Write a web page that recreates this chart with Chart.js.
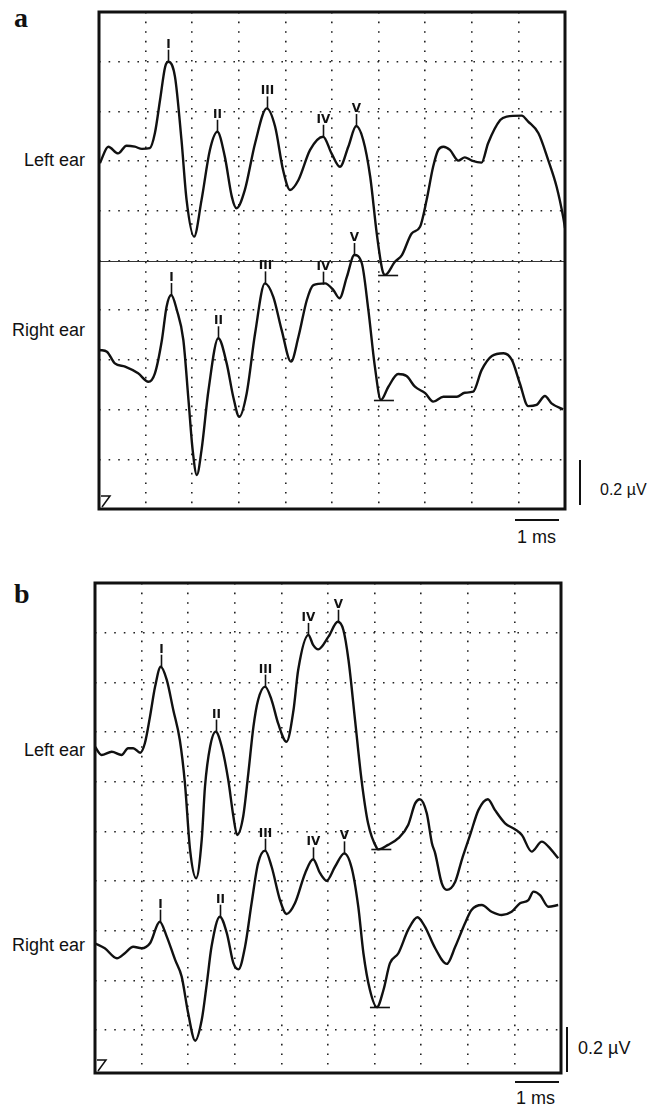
<!DOCTYPE html>
<html>
<head>
<meta charset="utf-8">
<script src="https://cdn.jsdelivr.net/npm/chart.js@4.4.1/dist/chart.umd.min.js"></script>
<style>
    html, body { margin: 0; padding: 0; background: #fff; }
    body { position: relative; width: 663px; height: 1107px; overflow: hidden; font-family: "Liberation Sans", Arial, Helvetica, sans-serif; color: #111; }
    canvas { position: absolute; left: 0; }
    .txt { position: absolute; white-space: nowrap; line-height: 1; }
    .ear { width: 85px; text-align: right; left: 0; font-size: 18px; }
    .panel { font-family: "Liberation Serif", "Times New Roman", serif; font-weight: bold; font-size: 28px; line-height: 28px; left: 14px; }
    .bar { position: absolute; background: #111; }
</style>
</head>
<body>
<div class="txt panel" style="top:4px">a</div>
<div class="txt panel" style="top:580px">b</div>

<div class="txt ear" style="top:151px">Left ear</div>
<div class="txt ear" style="top:321px">Right ear</div>
<div class="txt ear" style="top:741px">Left ear</div>
<div class="txt ear" style="top:936px">Right ear</div>

<!-- scale bars -->
<div class="bar" style="left:579px;top:460px;width:2px;height:45px"></div>
<div class="txt" style="left:600px;top:482px;font-size:16px">0.2 µV</div>
<div class="bar" style="left:515px;top:519px;width:44px;height:2px"></div>
<div class="txt" style="left:517px;top:528px;font-size:18px">1 ms</div>

<div class="bar" style="left:566px;top:1027px;width:2px;height:45px"></div>
<div class="txt" style="left:578px;top:1039px;font-size:18px">0.2 µV</div>
<div class="bar" style="left:515px;top:1081px;width:44px;height:2px"></div>
<div class="txt" style="left:516px;top:1089px;font-size:18px">1 ms</div>

<canvas id="chartA" width="663" height="560" style="top:0"></canvas>
<canvas id="chartB" width="663" height="547" style="top:560px"></canvas>

<script>
// time in ms, amplitude in µV (trace offsets included)
const gridX = [1, 2, 3, 4, 5, 6, 7, 8, 9];
const gridY = [0.2, 0.4, 0.6, 0.8, 1.0, 1.2, 1.4, 1.6, 1.8];
const peakNames = ['I', 'II', 'III', 'IV', 'V'];

// panel a
const aLeft = [[0.02,1.392],[0.20,1.458],[0.41,1.431],[0.59,1.462],[0.77,1.458],[0.92,1.449],[1.09,1.452],[1.20,1.513],[1.31,1.646],[1.42,1.780],[1.49,1.800],[1.63,1.740],[1.77,1.485],[1.88,1.243],[2.04,1.096],[2.20,1.243],[2.38,1.445],[2.54,1.518],[2.70,1.418],[2.85,1.257],[2.95,1.210],[3.13,1.284],[3.35,1.472],[3.60,1.612],[3.78,1.538],[3.95,1.364],[4.10,1.284],[4.28,1.324],[4.53,1.445],[4.81,1.498],[4.99,1.431],[5.17,1.377],[5.35,1.458],[5.52,1.541],[5.67,1.485],[5.82,1.337],[5.96,1.109],[6.08,0.962],[6.14,0.942],[6.35,0.995],[6.50,1.022],[6.71,1.109],[6.89,1.136],[7.03,1.243],[7.17,1.377],[7.28,1.445],[7.39,1.458],[7.53,1.445],[7.71,1.402],[7.85,1.415],[8.00,1.402],[8.21,1.394],[8.35,1.472],[8.61,1.565],[8.75,1.579],[9.07,1.583],[9.21,1.559],[9.43,1.512],[9.64,1.404],[9.82,1.297],[9.96,1.176],[10.0,1.131]];
const aRight = [[0.02,0.640],[0.17,0.633],[0.34,0.586],[0.56,0.573],[0.84,0.546],[1.06,0.512],[1.20,0.546],[1.35,0.680],[1.45,0.814],[1.55,0.861],[1.67,0.801],[1.81,0.680],[1.92,0.439],[2.01,0.237],[2.10,0.137],[2.20,0.237],[2.35,0.479],[2.56,0.687],[2.74,0.586],[2.88,0.452],[3.01,0.371],[3.17,0.466],[3.35,0.707],[3.56,0.908],[3.74,0.854],[3.92,0.720],[4.12,0.593],[4.28,0.693],[4.46,0.841],[4.60,0.901],[4.85,0.908],[5.03,0.881],[5.16,0.848],[5.32,0.935],[5.48,1.022],[5.64,0.989],[5.78,0.801],[5.92,0.573],[6.05,0.439],[6.21,0.492],[6.42,0.543],[6.60,0.535],[6.78,0.492],[7.00,0.466],[7.17,0.432],[7.39,0.452],[7.68,0.452],[7.85,0.468],[8.03,0.472],[8.21,0.559],[8.43,0.616],[8.68,0.627],[8.86,0.600],[9.03,0.506],[9.21,0.414],[9.39,0.419],[9.57,0.455],[9.71,0.425],[9.96,0.401]];
const aLeftPeaks = [1.49, 2.54, 3.60, 4.81, 5.52];
const aRightPeaks = [1.55, 2.56, 3.56, 4.81, 5.48];
const aTroughs = [6.14, 6.05];

// panel b
const bLeft = [[0.00,1.341],[0.14,1.308],[0.36,1.321],[0.57,1.308],[0.71,1.335],[0.82,1.335],[0.97,1.317],[1.07,1.355],[1.18,1.462],[1.29,1.583],[1.41,1.663],[1.54,1.610],[1.68,1.489],[1.82,1.368],[1.93,1.194],[2.04,0.926],[2.17,0.812],[2.29,0.966],[2.36,1.180],[2.47,1.341],[2.59,1.402],[2.72,1.341],[2.86,1.207],[2.97,1.060],[3.05,0.986],[3.18,1.060],[3.29,1.234],[3.40,1.422],[3.50,1.529],[3.65,1.583],[3.79,1.529],[3.93,1.435],[4.11,1.361],[4.26,1.489],[4.36,1.650],[4.58,1.791],[4.68,1.751],[4.79,1.733],[5.01,1.784],[5.21,1.844],[5.33,1.811],[5.44,1.690],[5.58,1.449],[5.72,1.207],[5.86,1.033],[6.05,0.932],[6.08,0.928],[6.29,0.946],[6.51,0.973],[6.72,1.026],[6.87,1.113],[6.97,1.130],[7.12,1.073],[7.23,0.953],[7.30,0.912],[7.44,0.792],[7.55,0.765],[7.73,0.798],[7.87,0.885],[8.05,0.986],[8.23,1.087],[8.43,1.130],[8.58,1.087],[8.80,1.033],[9.01,1.009],[9.16,0.986],[9.37,0.919],[9.59,0.959],[9.73,0.939],[9.94,0.892]];
const bRight = [[0.00,0.550],[0.21,0.530],[0.47,0.490],[0.64,0.510],[0.82,0.536],[1.00,0.530],[1.18,0.550],[1.39,0.637],[1.54,0.577],[1.72,0.483],[1.86,0.416],[2.00,0.268],[2.15,0.158],[2.29,0.241],[2.40,0.389],[2.50,0.536],[2.68,0.657],[2.83,0.590],[2.97,0.470],[3.08,0.445],[3.22,0.536],[3.36,0.711],[3.50,0.872],[3.65,0.923],[3.79,0.858],[3.97,0.724],[4.11,0.668],[4.29,0.711],[4.51,0.832],[4.68,0.888],[4.83,0.832],[4.97,0.802],[5.15,0.858],[5.35,0.912],[5.51,0.852],[5.65,0.697],[5.76,0.510],[5.90,0.362],[6.05,0.293],[6.19,0.362],[6.33,0.470],[6.51,0.510],[6.72,0.604],[6.92,0.655],[7.08,0.617],[7.30,0.530],[7.55,0.467],[7.73,0.536],[7.94,0.631],[8.08,0.684],[8.30,0.704],[8.51,0.677],[8.73,0.664],[8.94,0.677],[9.12,0.711],[9.30,0.724],[9.41,0.758],[9.55,0.744],[9.73,0.697],[9.94,0.704]];
const bLeftPeaks = [1.41, 2.59, 3.65, 4.58, 5.21];
const bRightPeaks = [1.39, 2.68, 3.65, 4.68, 5.35];
const bTroughs = [6.08, 6.05];

// linear lookup of a trace value at time t
function valueAt(points, t) {
    for (let i = 1; i < points.length; i++) {
        const a = points[i - 1], b = points[i];
        if (t <= b.x) {
            const f = (t - a.x) / ((b.x - a.x) || 1);
            return a.y + f * (b.y - a.y);
        }
    }
    return points[points.length - 1].y;
}

// box, corner mark and optional solid reference line
const framePlugin = {
    id: 'frame',
    beforeDatasetsDraw(chart, args, opts) {
        const {ctx, chartArea: ca, scales: {y}} = chart;
        if (opts.solidAt != null) {
            const py = Math.round(y.getPixelForValue(opts.solidAt)) + 0.5;
            ctx.save();
            ctx.strokeStyle = '#333';
            ctx.lineWidth = 1;
            ctx.beginPath();
            ctx.moveTo(ca.left, py);
            ctx.lineTo(ca.right, py);
            ctx.stroke();
            ctx.restore();
        }
    },
    afterDraw(chart) {
        const {ctx, chartArea: ca} = chart;
        ctx.save();
        ctx.strokeStyle = '#111';
        ctx.lineWidth = 3;
        ctx.strokeRect(ca.left, ca.top, ca.right - ca.left, ca.bottom - ca.top);
        ctx.lineWidth = 1.5;
        ctx.beginPath();
        ctx.moveTo(ca.left + 2, ca.bottom - 13);
        ctx.lineTo(ca.left + 11, ca.bottom - 13);
        ctx.lineTo(ca.left + 3, ca.bottom - 2);
        ctx.stroke();
        ctx.restore();
    }
};

// wave labels I..V above peaks, bar under the trough after V
const peakPlugin = {
    id: 'peaks',
    afterDatasetsDraw(chart) {
        const {ctx, scales: {x, y}} = chart;
        ctx.save();
        ctx.strokeStyle = '#111';
        ctx.fillStyle = '#111';
        ctx.lineWidth = 1.6;
        ctx.font = 'bold 12px "DejaVu Sans", "Liberation Sans", sans-serif';
        ctx.textAlign = 'center';
        ctx.textBaseline = 'alphabetic';
        chart.data.datasets.forEach(ds => {
            ds.peaks.forEach((t, i) => {
                const px = Math.round(x.getPixelForValue(t)) + 0.5;
                const py = y.getPixelForValue(valueAt(ds.data, t));
                ctx.beginPath();
                ctx.moveTo(px, py + 1);
                ctx.lineTo(px, py - 12);
                ctx.stroke();
                ctx.fillText(peakNames[i], px, py - 14);
            });
            if (ds.trough != null) {
                const px = x.getPixelForValue(ds.trough);
                const py = Math.round(y.getPixelForValue(valueAt(ds.data, ds.trough))) + 0.5;
                ctx.beginPath();
                ctx.moveTo(px - 7, py);
                ctx.lineTo(px + 13, py);
                ctx.stroke();
            }
        });
        ctx.restore();
    }
};

function trace(points, peaks, trough) {
    return {
        data: points.map(([x, y]) => ({x, y})),
        peaks: peaks,
        trough: trough,
        borderColor: '#111',
        borderWidth: 2.4,
        pointRadius: 0,
        fill: false,
        cubicInterpolationMode: 'monotone'
    };
}

function makeChart(id, datasets, yMin, padding, solidAt) {
    const hidden = {display: false};
    return new Chart(document.getElementById(id), {
        type: 'line',
        data: {datasets},
        options: {
            responsive: false,
            animation: false,
            devicePixelRatio: 1,
            layout: {padding},
            plugins: {legend: hidden, tooltip: {enabled: false}, frame: {solidAt}},
            scales: {
                x: {
                    type: 'linear', min: 0, max: 10,
                    afterBuildTicks: s => { s.ticks = gridX.map(v => ({value: v})) },
                    ticks: hidden,
                    grid: {color: '#222', lineWidth: 1.6, drawTicks: false},
                    border: {display: false, dash: [1.6, 8]}
                },
                y: {
                    type: 'linear', min: yMin, max: 2,
                    afterBuildTicks: s => { s.ticks = gridY.map(v => ({value: v})) },
                    ticks: hidden,
                    grid: {color: '#222', lineWidth: 1.6, drawTicks: false},
                    border: {display: false, dash: [1.6, 8]}
                }
            }
        },
        plugins: [framePlugin, peakPlugin]
    });
}

document.addEventListener('DOMContentLoaded', () => {
    makeChart('chartA',
        [trace(aLeft, aLeftPeaks, aTroughs[0]), trace(aRight, aRightPeaks, aTroughs[1])],
        0, {left: 99, right: 98, top: 12, bottom: 51}, 1.0);
    makeChart('chartB',
        [trace(bLeft, bLeftPeaks, bTroughs[0]), trace(bRight, bRightPeaks, bTroughs[1])],
        0.028, {left: 95, right: 102, top: 23, bottom: 34}, null);
});
</script>
</body>
</html>
